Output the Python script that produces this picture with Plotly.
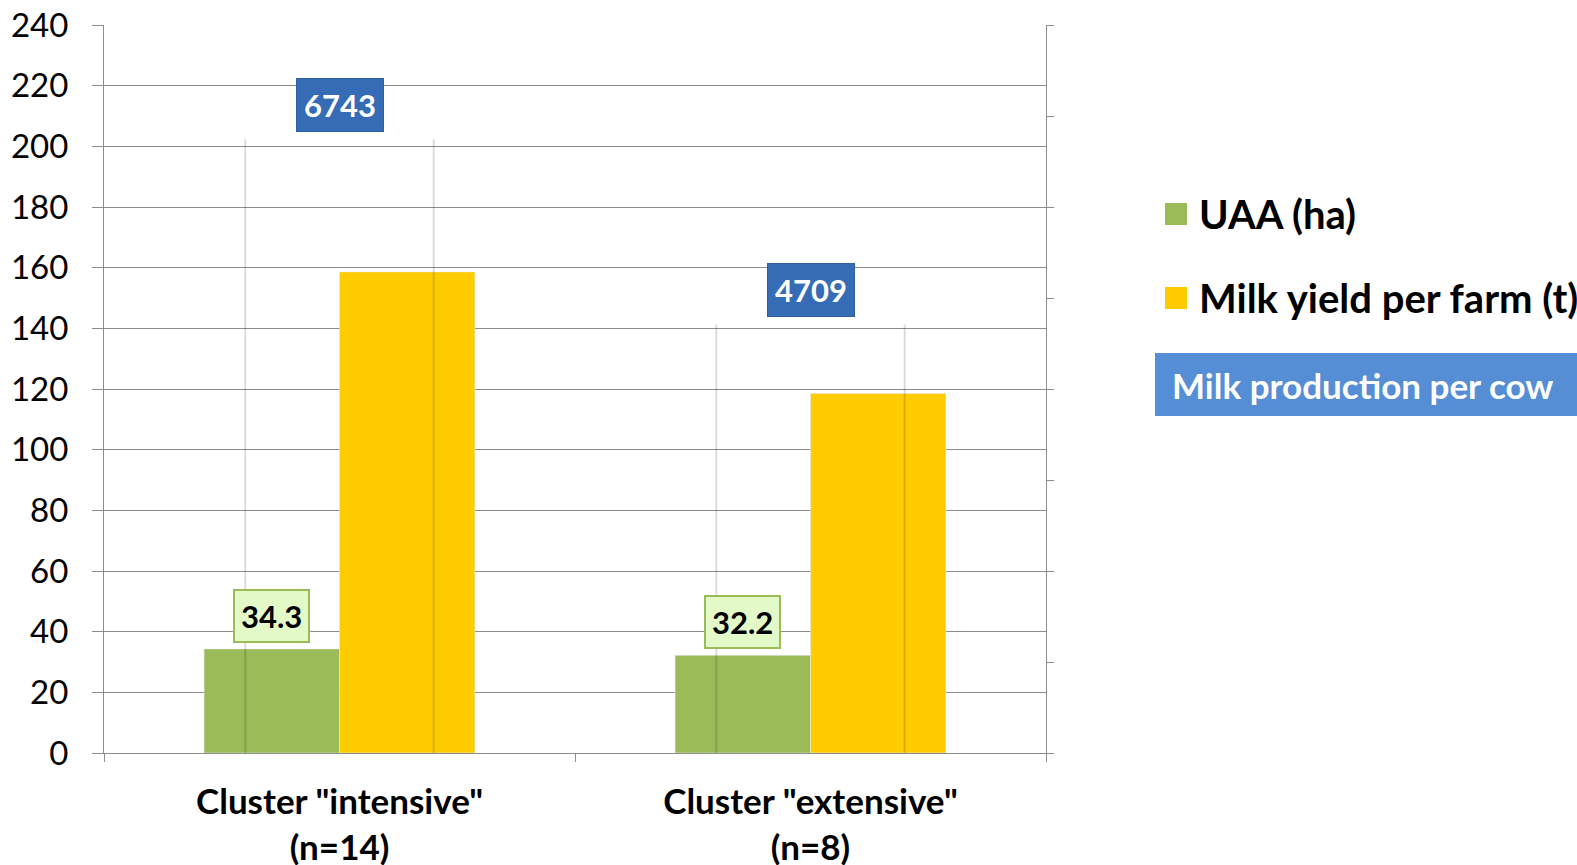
import plotly.graph_objects as go

# ---------------- data ----------------
categories = ['Cluster "intensive"<br>(n=14)', 'Cluster "extensive"<br>(n=8)']
uaa_ha = [34.3, 32.2]
milk_yield_farm_t = [158.6, 118.5]
milk_per_cow = [6743, 4709]
series_names = ["UAA (ha)", "Milk yield per farm (t)", "Milk production per cow"]
y_ticks = list(range(0, 241, 20))

# ---------------- style ----------------
W, H = 1577, 865
ML, MR, MT, MB = 104, 531, 25, 112
GREEN = "#9BBB59"
YELLOW = "#FFCC00"
BLUE_LBL = "#356CB5"
BLUE_LEG = "#558ED5"
GRID = "#8C8C8C"
FONT = "Lato"
BW = 0.2875
CW = 0.4
EDGE = 0.0042

fig = go.Figure()
fig.add_trace(go.Bar(x=categories, y=uaa_ha, name=series_names[0], marker_color=GREEN,
                     offset=-BW, width=BW, showlegend=False))
fig.add_trace(go.Bar(x=categories, y=milk_yield_farm_t, name=series_names[1], marker_color=YELLOW,
                     offset=0, width=BW, showlegend=False))
# "Milk production per cow": invisible column on the secondary axis, only its side edges show
for off in (-CW / 2 - EDGE / 2, CW / 2 - EDGE / 2):
    fig.add_trace(go.Bar(x=categories, y=milk_per_cow, name=series_names[2], yaxis="y2",
                         marker=dict(color="rgba(0,0,0,0.14)", line=dict(width=0)),
                         offset=off, width=EDGE, showlegend=False))

annotations = []
for i, c in enumerate(categories):
    annotations.append(dict(x=c, xref="x", xshift=-BW / 2 * 471, y=uaa_ha[i], yref="y",
                            text=f"<b>{uaa_ha[i]}</b>", showarrow=False, yanchor="bottom", yshift=6,
                            font=dict(family=FONT, size=31, color="black"),
                            bgcolor="#E4F9C8", bordercolor=GREEN, borderwidth=2, borderpad=6))
    annotations.append(dict(x=c, xref="x", y=milk_per_cow[i], yref="y2",
                            text=f"<b>{milk_per_cow[i]}</b>", showarrow=False, yanchor="bottom", yshift=7,
                            font=dict(family=FONT, size=31, color="white"),
                            bgcolor=BLUE_LBL, bordercolor="#2E5E9E", borderwidth=1, borderpad=7))

pw = W - ML - MR
ph = H - MT - MB
def px(x):
    return (x - ML) / pw
def py(y):
    return (H - MB - y) / ph

shapes = []
legend_rows = [(series_names[0], GREEN, 214), (series_names[1], YELLOW, 298)]
for name, col, yc in legend_rows:
    shapes.append(dict(type="rect", xref="paper", yref="paper",
                       x0=px(1165), x1=px(1187), y0=py(yc + 11), y1=py(yc - 11),
                       fillcolor=col, line=dict(width=0)))
    annotations.append(dict(x=px(1197), y=py(yc), xref="paper", yref="paper", xanchor="left",
                            yanchor="middle", showarrow=False, text=f"<b>{name}</b>",
                            font=dict(family=FONT, size=40, color="black")))
shapes.append(dict(type="rect", xref="paper", yref="paper",
                   x0=px(1155), x1=px(1600), y0=py(416), y1=py(353),
                   fillcolor=BLUE_LEG, line=dict(width=0)))
annotations.append(dict(x=px(1170), y=py(385), xref="paper", yref="paper", xanchor="left",
                        yanchor="middle", showarrow=False, text=f"<b>{series_names[2]}</b>",
                        font=dict(family=FONT, size=35, color="white")))

fig.update_layout(
    width=W, height=H,
    margin=dict(l=ML, r=MR, t=MT, b=MB, pad=0, autoexpand=False),
    paper_bgcolor="white", plot_bgcolor="white",
    barmode="overlay",
    font=dict(family=FONT, color="black"),
    xaxis=dict(type="category", tickson="boundaries", ticks="outside", ticklen=8,
               tickcolor=GRID, showline=True, linecolor=GRID, linewidth=1,
               showgrid=False, range=[-0.5, 1.5], automargin=False,
               tickfont=dict(family=FONT, size=35, color="black"), ticklabelstandoff=18),
    yaxis=dict(range=[0, 240], tickvals=y_ticks, ticks="outside", ticklen=11,
               tickcolor=GRID, showline=True, linecolor=GRID, gridcolor=GRID, gridwidth=1,
               zeroline=False, tickfont=dict(family=FONT, size=33, color="black"),
               ticklabelstandoff=17, automargin=False),
    yaxis2=dict(overlaying="y", side="right", range=[0, 8000], dtick=1000, ticks="outside",
                ticklen=7, tickcolor=GRID, showline=True, linecolor=GRID, showgrid=False,
                showticklabels=False, zeroline=False, automargin=False),
    annotations=annotations, shapes=shapes,
)
fig.update_xaxes(tickprefix="<b>", ticksuffix="</b>")

fig.write_html("out.html")
